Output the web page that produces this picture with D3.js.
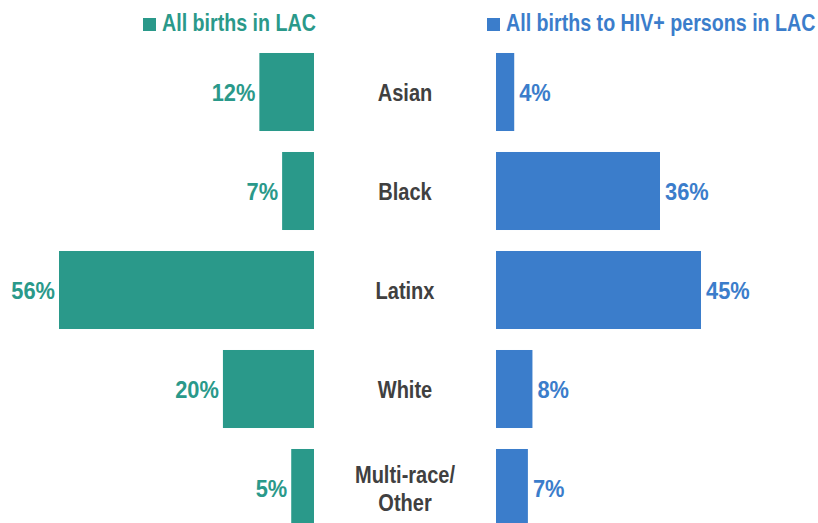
<!DOCTYPE html>
<html>
<head>
<meta charset="utf-8">
<script src="https://cdn.jsdelivr.net/npm/d3@7"></script>
<style>
  body { margin: 0; background: #fff; }
  text { font-family: "Liberation Sans", Arial, sans-serif; font-weight: bold; font-size: 23px; }
</style>
</head>
<body>
<div id="chart"></div>
<script>
var categories = ["Asian", "Black", "Latinx", "White", "Multi-race/Other"];
var allBirths = [12, 7, 56, 20, 5];
var hivBirths = [4, 36, 45, 8, 7];
var seriesNames = ["All births in LAC", "All births to HIV+ persons in LAC"];

var teal = "#2a998a";
var blue = "#3b7dcb";

var width = 818, height = 523;

var svg = d3.select('#chart').append('svg')
  .attr('width', width)
  .attr('height', height);

var y = d3.scaleBand()
  .domain(categories)
  .range([42.5, 537.5])
  .paddingInner(0.212)
  .paddingOuter(0.106);

// left bars grow leftwards from x=314
var xl = d3.scaleLinear().domain([0, 56]).range([314, 59]);
// right bars grow rightwards from x=496
var xr = d3.scaleLinear().domain([0, 45]).range([496, 701]);

function mid(i){ return y(categories[i]) + y.bandwidth()/2; }
// squeeze the font sideways, the original uses a narrow face
function place(x, yy, sx){ return 'translate(' + x + ',' + yy + ') scale(' + sx + ',1)'; }

svg.selectAll('rect.left')
  .data(allBirths)
  .enter().append('rect')
  .attr('class', 'left')
  .attr('x', function(d){ return xl(d); })
  .attr('y', function(d, i){ return y(categories[i]); })
  .attr('width', function(d){ return xl(0) - xl(d); })
  .attr('height', y.bandwidth())
  .style('fill', teal);

svg.selectAll('rect.right')
  .data(hivBirths)
  .enter().append('rect')
  .attr('class', 'right')
  .attr('x', xr(0))
  .attr('y', function(d, i){ return y(categories[i]); })
  .attr('width', function(d){ return xr(d) - xr(0); })
  .attr('height', y.bandwidth())
  .style('fill', blue);

svg.selectAll('text.lv')
  .data(allBirths)
  .enter().append('text')
  .attr('class', 'lv')
  .attr('transform', function(d, i){ return place(xl(d) - 4, mid(i) + 9, 0.95); })
  .attr('text-anchor', 'end')
  .style('fill', teal)
  .text(function(d){ return d + '%'; });

svg.selectAll('text.rv')
  .data(hivBirths)
  .enter().append('text')
  .attr('class', 'rv')
  .attr('transform', function(d, i){ return place(xr(d) + 5, mid(i) + 9, 0.95); })
  .attr('text-anchor', 'start')
  .style('fill', blue)
  .text(function(d){ return d + '%'; });

// category labels in the middle
var cat = svg.selectAll('text.cat')
  .data(categories)
  .enter().append('text')
  .attr('class', 'cat')
  .attr('text-anchor', 'middle')
  .style('fill', '#404040');

cat.each(function(d, i){
  var k = d.indexOf('/');
  var parts = k > -1 ? [d.slice(0, k + 1), d.slice(k + 1)] : [d];
  var t = d3.select(this)
    .attr('transform', place(405, mid(i) + 9 - (parts.length - 1) * 14.2, 0.87));
  parts.forEach(function(p, j){
    t.append('tspan')
      .attr('x', 0)
      .attr('y', j * 28.4)
      .text(p);
  });
});

// legend
var legend = [
  {name: seriesNames[0], color: teal, x: 143},
  {name: seriesNames[1], color: blue, x: 487}
];
var lg = svg.selectAll('g.legend')
  .data(legend)
  .enter().append('g')
  .attr('class', 'legend')
  .attr('transform', function(d){ return 'translate(' + d.x + ',0)'; });

lg.append('rect')
  .attr('y', 18)
  .attr('width', 13)
  .attr('height', 13)
  .style('fill', function(d){ return d.color; });

lg.append('text')
  .attr('transform', place(19, 31, 0.855))
  .style('fill', function(d){ return d.color; })
  .text(function(d){ return d.name; });
</script>
</body>
</html>
